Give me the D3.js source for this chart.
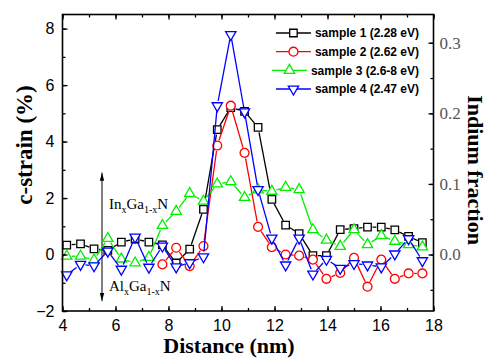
<!DOCTYPE html>
<html>
<head>
<meta charset="utf-8">
<script src="https://cdn.jsdelivr.net/npm/d3@7"></script>
<style>
  body { margin: 0; background: #fff; }
  svg { display: block; }
</style>
</head>
<body>
<svg id="chart" width="489" height="358"></svg>
<script>
// ---- data ----
const distance = [4.16, 4.68, 5.19, 5.71, 6.22, 6.74, 7.26, 7.77, 8.29, 8.80, 9.32, 9.84, 10.35, 10.87,
  11.38, 11.90, 12.42, 12.93, 13.45, 13.96, 14.48, 15.00, 15.51, 16.03, 16.54, 17.06, 17.58];
const sample1 = [0.33, 0.38, 0.2, 0.15, 0.44, 0.55, 0.44, 0.34, -0.3, 0.19, 1.6, 4.42, 5.2, 5.07,
  4.5, 1.95, 1.04, 0.74, -0.04, -0.04, 0.88, 0.92, 0.97, 0.97, 0.87, 0.64, 0.42];
const sample2 = [null, null, null, null, null, null, null, -0.35, 0.24, -0.41, 0.3, 3.86, 5.27, 3.6,
  0.98, 0.26, 0.0, -0.04, -0.18, -0.86, -0.65, -0.12, -1.14, -0.18, -0.86, -0.67, -0.67];
const sample3 = [-0.06, -0.06, -0.19, 0.57, -0.16, -0.3, -0.1, 1.03, 1.53, 2.16, 1.89, 2.5, 2.58, 2.02,
  2.29, 2.24, 2.38, 2.3, 0.88, 0.51, 0.29, 0.88, 0.35, 0.67, 0.47, 0.35, 0.27];
const sample4 = [-0.72, -0.35, -0.4, 0.12, -0.52, 0.62, -0.45, 0.3, -0.44, -0.29, -0.08, 5.27, 7.79, 5.05,
  2.3, 0.58, -0.37, 0.58, -0.69, -0.17, -0.49, -0.32, -0.37, -0.44, 0.02, 0.56, -0.22];
const seriesNames = ["sample 1 (2.28 eV)", "sample 2 (2.62 eV)", "sample 3 (2.6-8 eV)", "sample 4 (2.47 eV)"];
const xTicks = [4, 6, 8, 10, 12, 14, 16, 18];
const yTicks = [-2, 0, 2, 4, 6, 8];
const fracTicks = [0.0, 0.1, 0.2, 0.3];

const series = [
  { name: seriesNames[0], values: sample1, color: "#000000", shape: "square" },
  { name: seriesNames[1], values: sample2, color: "#ff0000", shape: "circle" },
  { name: seriesNames[2], values: sample3, color: "#00ee00", shape: "up" },
  { name: seriesNames[3], values: sample4, color: "#0000ff", shape: "down" }
];

// ---- layout ----
const plot = { left: 62.5, right: 433.5, top: 14.5, bottom: 311 };
const svg = d3.select("#chart");

const x = d3.scaleLinear().domain([4, 18]).range([plot.left, plot.right]);
const y = d3.scaleLinear().domain([-2, 8.5]).range([plot.bottom, plot.top]);
const yFrac = d3.scaleLinear().domain([-0.08, 0.34]).range([plot.bottom, plot.top]);

const sans = "Arial, 'Liberation Sans', sans-serif";
const serif = "'Times New Roman', 'Liberation Serif', serif";

// marker shapes
const symbolFor = {
  square: d3.symbol().type(d3.symbolSquare).size(56),
  circle: d3.symbol().type(d3.symbolCircle).size(62),
  up: d3.symbol().type(d3.symbolTriangle).size(46),
  down: d3.symbol().type(d3.symbolTriangle).size(46)
};
const gapFor = { square: 5, circle: 5.5, up: 5, down: 5 };

function drawMarker(g, shape, cx, cy, color) {
  g.append("path")
    .attr("d", symbolFor[shape]())
    .attr("transform", `translate(${cx},${cy})` + (shape === "down" ? " rotate(180)" : ""))
    .attr("fill", "#fff")
    .attr("stroke", color)
    .attr("stroke-width", 1.3);
}

// ---- annotation arrow (behind the data) ----
const ann = svg.append("g");
const arrowX = 102;
ann.append("line")
  .attr("x1", arrowX).attr("x2", arrowX)
  .attr("y1", y(2.9)).attr("y2", y(-1.65))
  .attr("stroke", "#000").attr("stroke-width", 1);
[[y(2.9), 1], [y(-1.65), -1]].forEach(([tip, dir]) => {
  ann.append("path")
    .attr("d", `M${arrowX},${tip} L${arrowX - 2.2},${tip + dir * 8} L${arrowX + 2.2},${tip + dir * 8} Z`)
    .attr("fill", "#000");
});

function alloyLabel(gy, first) {
  const t = ann.append("text")
    .attr("x", 109).attr("y", gy)
    .attr("font-family", serif).attr("font-size", 15).attr("fill", "#000");
  t.append("tspan").text(first);
  t.append("tspan").text("x").attr("font-size", 10).attr("dy", 4);
  t.append("tspan").text("Ga").attr("dy", -4);
  t.append("tspan").text("1-x").attr("font-size", 10).attr("dy", 4);
  t.append("tspan").text("N").attr("dy", -4);
}
alloyLabel(209, "In");
alloyLabel(291, "Al");

// ---- data lines and markers ----
const dataG = svg.append("g");
series.forEach(s => {
  const pts = distance.map((d, i) => ({ px: x(d), py: s.values[i] == null ? null : y(s.values[i]) }))
    .filter(p => p.py != null);
  const gap = gapFor[s.shape];
  const g = dataG.append("g");
  // line segments, trimmed around the symbols
  for (let i = 0; i < pts.length - 1; i++) {
    const a = pts[i], b = pts[i + 1];
    const dx = b.px - a.px, dy = b.py - a.py;
    const len = Math.hypot(dx, dy);
    if (len <= 2 * gap + 0.5) continue;
    const ux = dx / len, uy = dy / len;
    g.append("line")
      .attr("x1", a.px + ux * gap).attr("y1", a.py + uy * gap)
      .attr("x2", b.px - ux * gap).attr("y2", b.py - uy * gap)
      .attr("stroke", s.color).attr("stroke-width", 1.3);
  }
  pts.forEach(p => drawMarker(g, s.shape, p.px, p.py, s.color));
});

// ---- axes ----
const axesG = svg.append("g");
const minorX = d3.range(4, 18.01, 1);
const minorY = d3.range(-2, 8.01, 1);
const minorF = d3.range(-0.05, 0.341, 0.05);

function styleAxis(g) {
  g.select(".domain").remove();
  g.selectAll(".tick line").attr("stroke", "#000").attr("stroke-width", 1.3);
}

// bottom
axesG.append("g").attr("transform", `translate(0,${plot.bottom})`)
  .call(d3.axisBottom(x).tickValues(minorX).tickSize(-3).tickFormat(""))
  .call(styleAxis);
axesG.append("g").attr("transform", `translate(0,${plot.bottom})`)
  .call(d3.axisBottom(x).tickValues(xTicks).tickSize(-5).tickPadding(9).tickFormat(d3.format("d")))
  .call(styleAxis)
  .selectAll("text").attr("font-family", sans).attr("font-size", 16).attr("fill", "#000");
// top
axesG.append("g").attr("transform", `translate(0,${plot.top})`)
  .call(d3.axisTop(x).tickValues(minorX).tickSize(-3).tickFormat(""))
  .call(styleAxis);
axesG.append("g").attr("transform", `translate(0,${plot.top})`)
  .call(d3.axisTop(x).tickValues(xTicks).tickSize(-5).tickFormat(""))
  .call(styleAxis);
// left
axesG.append("g").attr("transform", `translate(${plot.left},0)`)
  .call(d3.axisLeft(y).tickValues(minorY).tickSize(-3).tickFormat(""))
  .call(styleAxis);
axesG.append("g").attr("transform", `translate(${plot.left},0)`)
  .call(d3.axisLeft(y).tickValues(yTicks).tickSize(-5).tickPadding(8).tickFormat(d3.format("d")))
  .call(styleAxis)
  .selectAll("text").attr("font-family", sans).attr("font-size", 16).attr("fill", "#000");
// right (indium fraction)
axesG.append("g").attr("transform", `translate(${plot.right},0)`)
  .call(d3.axisRight(yFrac).tickValues(minorF).tickSize(-3).tickFormat(""))
  .call(styleAxis);
axesG.append("g").attr("transform", `translate(${plot.right},0)`)
  .call(d3.axisRight(yFrac).tickValues(fracTicks).tickSize(-5).tickPadding(6).tickFormat(d3.format(".1f")))
  .call(styleAxis)
  .selectAll("text").attr("font-family", serif).attr("font-size", 17).attr("fill", "#555");

// frame
axesG.append("rect")
  .attr("x", plot.left).attr("y", plot.top)
  .attr("width", plot.right - plot.left).attr("height", plot.bottom - plot.top)
  .attr("fill", "none").attr("stroke", "#000").attr("stroke-width", 1.6);

// ---- axis titles ----
svg.append("text")
  .attr("x", 229).attr("y", 353)
  .attr("text-anchor", "middle")
  .attr("font-family", serif).attr("font-weight", "bold").attr("font-size", 22)
  .text("Distance (nm)");
svg.append("text")
  .attr("transform", "translate(32,145) rotate(-90)")
  .attr("text-anchor", "middle")
  .attr("font-family", serif).attr("font-weight", "bold").attr("font-size", 23)
  .text("c-strain (%)");
svg.append("text")
  .attr("transform", "translate(468,170) rotate(90)")
  .attr("text-anchor", "middle")
  .attr("font-family", serif).attr("font-weight", "bold").attr("font-size", 22)
  .text("Indium fraction");

// ---- legend ----
const legend = svg.append("g");
const legendRows = [33, 51.7, 70.3, 89];
series.forEach((s, i) => {
  const row = legend.append("g").attr("transform", `translate(0,${legendRows[i]})`);
  const label = row.append("text")
    .attr("x", 419).attr("dy", "0.36em")
    .attr("text-anchor", "end")
    .attr("font-family", sans).attr("font-weight", "bold").attr("font-size", 12)
    .text(s.name);
  const start = 419 - label.node().getComputedTextLength();
  const x1 = start - 39, x2 = start - 4, mid = (x1 + x2) / 2;
  row.append("line").attr("x1", x1).attr("x2", x2).attr("y1", 0).attr("y2", 0)
    .attr("stroke", s.color).attr("stroke-width", 1.3);
  drawMarker(row, s.shape, mid, 0, s.color);
});
</script>
</body>
</html>
